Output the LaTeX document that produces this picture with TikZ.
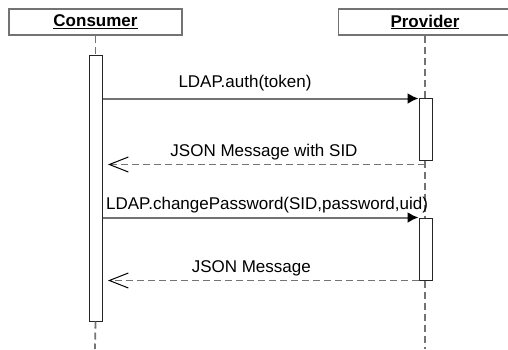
\documentclass[tikz,border=0pt]{standalone}
\usepackage{fontspec}
\setmainfont{Liberation Sans}
\usetikzlibrary{arrows.meta,positioning,calc}

\begin{document}
\begin{tikzpicture}[
        x=1pt,y=-1pt,
        font=\fontsize{17}{20}\selectfont,
        actor/.style={draw=black!55,line width=1.8pt,minimum width=173pt,minimum height=26pt,inner sep=0pt,font=\fontsize{17}{20}\selectfont\bfseries},
        activation/.style={draw=black!85,line width=1pt,fill=white,minimum width=13pt,inner sep=0pt},
        lifeline/.style={draw=black!55,line width=1.8pt,dash pattern=on 7pt off 4pt},
        call/.style={draw=black!55,line width=2pt,-{Latex[black,length=11pt,width=11pt]}},
        reply/.style={draw=black!55,line width=1.8pt,dash pattern=on 7pt off 4pt,-{Straight Barb[black,length=19pt,width=15pt,line width=1pt]},shorten >=5pt},
        >=Stealth % 箭头样式
    ]
        \useasboundingbox (0,0) rectangle (508,349);

        % 参与者
        \node[actor] (cons) at (95.5,22) {\underline{Consumer}};
        \node[actor] (prov) at (425,22) {\underline{Provider}};

        % 激活条
        \node[activation,minimum height=266pt] (cact) at (96,188) {};
        \node[activation,minimum height=62pt] (pact1) at (425.5,129) {};
        \node[activation,minimum height=62pt] (pact2) at (425.5,249) {};
        \coordinate (cend) at (95,349);
        \coordinate (pend) at (425,349);

        % 生命线
        \draw[lifeline] (cons.south) -- (cons.south |- cact.north);
        \draw[lifeline] (cact.south -| cons.south) -- (cend);
        \draw[lifeline] (prov.south) -- (prov.south |- pact1.north);
        \draw[lifeline] (pact1.south -| prov.south) -- (prov.south |- pact2.north);
        \draw[lifeline] (pact2.south -| prov.south) -- (pend);

        % 消息
        \draw[call] ([yshift=-1pt]pact1.north west -| cact.east) -- node[pos=0.45,above=3pt] {LDAP.auth(token)} ([yshift=-1pt]pact1.north west);
        \draw[reply] ([yshift=-4pt]pact1.south -| prov.south) -- node[pos=0.5,above] {JSON Message with SID} ([yshift=-4pt]pact1.south -| cact.east);
        \draw[call] (pact2.north west -| cact.east) -- node[pos=0.52,above] {LDAP.changePassword(SID,password,uid)} (pact2.north west);
        \draw[reply] (pact2.south west) -- node[pos=0.53,above] {JSON Message} (pact2.south west -| cact.east);

    \end{tikzpicture}
\end{document}
